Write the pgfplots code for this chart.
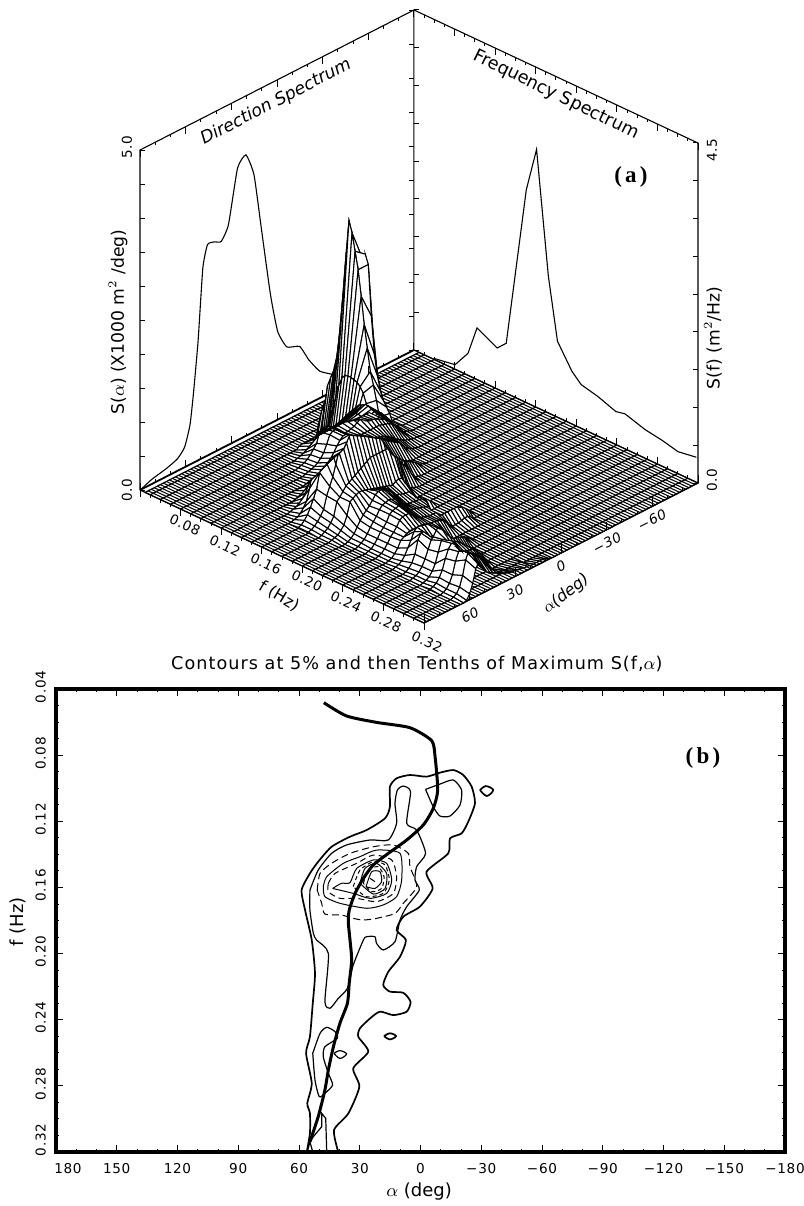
\documentclass[border=0pt]{standalone}
\usepackage{pgfplots}
\pgfplotsset{compat=1.18}
\usepackage{fontspec}
\setmainfont{DejaVu Sans}
\newfontfamily\serifb{Liberation Serif}[LetterSpace=14]
\newcount\ac
\def\Coords{}
\def\addpt#1#2{\ifnum\ac>66 \else\xdef\Coords{\Coords(#1,\the\ac,#2)}\global\advance\ac by 2 \fi}
\def\Row#1#2#3{\global\ac=-34
 \loop\ifnum\ac<#2 \addpt{#1}{0}\repeat
 \foreach \z in {#3}{\addpt{#1}{\z}}
 \loop\ifnum\ac<68 \addpt{#1}{0}\repeat}
% S(f,alpha): rows of f, columns of alpha (2 deg), heights in units of the wall scale
\Row{0.08}{-22}{1,2,3,3,3,3,3,3,3,3,3,3,3,3,3,3,3,2}
\Row{0.09}{-30}{1,2,3,6,10,14,16,16,15,14,14,14,14,14,14,14,14,14,13,11,9,7,5,3,2,1}
\Row{0.10}{-34}{2,4,7,11,14,18,22,27,30,31,32,32,31,30,29,27,25,23,23,25,27,28,28,26,16,12,8,5,3,2,1}
\Row{0.11}{-34}{2,3,6,10,15,19,23,26,28,30,31,31,30,28,26,24,23,22,22,24,27,30,30,28,20,13,9,6,4,3,2,1}
\Row{0.12}{-34}{1,2,3,6,10,14,17,19,20,21,22,22,22,22,22,22,22,23,24,26,28,30,30,27,23,18,14,11,9,7,5,4,3,2,1}
\Row{0.13}{-32}{1,1,2,3,4,6,8,10,13,15,17,19,20,21,22,24,26,28,32,36,40,41,38,32,27,25,24,23,22,21,20,19,18,16,14,11,8,5,3,2,1}
\Row{0.14}{-24}{1,2,4,6,10,14,16,18,20,22,25,28,33,40,47,54,70,82,90,96,100,104,107,109,108,102,92,82,72,60,52,44,36,30,27,18,12,8,5,3,2,1}
\Row{0.15}{-14}{1,2,4,7,10,13,17,23,28,42,60,78,95,110,135,160,190,218,238,258,272,238,200,165,142,130,124,118,100,95,84,65,40,24,13,8,4,2,1}
\Row{0.16}{-16}{1,2,5,8,11,14,18,22,24,45,58,68,76,84,95,112,135,175,228,240,238,225,195,170,148,135,128,128,132,140,130,118,84,62,45,30,22,15,9,5,2,1}
\Row{0.17}{-6}{1,2,6,13,17,21,26,38,54,62,70,78,84,88,92,92,92,90,88,86,86,86,85,82,78,74,66,55,44,36,28,16,11,7,4,2,1}
\Row{0.18}{2}{1,2,4,9,14,22,40,50,54,54,54,54,54,54,54,54,52,50,48,46,44,42,40,38,34,30,27,14,9,5,3,1}
\Row{0.19}{10}{4,14,20,24,27,28,27,25,26,27,28,29,30,31,32,33,34,35,35,34,32,30,18,10,6,3,2,1}
\Row{0.20}{8}{6,14,17,20,21,20,20,20,21,22,23,27,30,32,34,36,36,34,30,26,23,20,16,11,6,3,1}
\Row{0.21}{14}{8,14,16,17,17,18,18,19,21,24,27,30,31,32,31,30,27,22,18,14,9,5,3,1}
\Row{0.22}{14}{3,8,14,15,16,17,18,19,20,21,23,26,29,31,30,29,27,21,17,14,9,5,2,1}
\Row{0.23}{2}{4,12,15,16,16,16,16,15,15,15,15,15,15,16,17,18,20,22,25,28,28,28,26,21,17,14,9,5,2,1}
\Row{0.24}{6}{3,5,5,4,3,3,3,6,10,13,15,16,17,17,18,19,20,20,20,20,20,19,17,15,9,5,2,1}
\Row{0.25}{26}{3,7,13,16,18,22,25,27,30,32,32,30,27,20,14,8,4,2,1}
\Row{0.26}{20}{2,4,9,14,17,19,21,23,27,30,31,27,22,24,28,32,32,27,14,7,3,1}
\Row{0.27}{26}{2,5,8,11,14,16,18,20,22,24,27,31,33,30,22,14,8,4,2,1}
\Row{0.28}{26}{1,4,14,16,18,20,22,24,26,28,32,38,42,34,24,14,8,4,2,1}
\Row{0.29}{30}{3,8,14,17,19,20,21,22,24,28,34,36,32,24,14,8,4,2,1}
\Row{0.30}{34}{3,7,13,17,20,23,27,28,34,38,34,26,14,7,3,1}
\Row{0.31}{20}{2,2,2,2,2,2,3,3,4,5,7,9,13,17,22,30,36,40,32,18,8,3,1}
\Row{0.32}{8}{1,2,3,3,3,3,3,4,4,5,5,6,6,7,8,9,11,14,18,22,26,30,32,33,28,15,6,1}
\begin{document}
\begin{tikzpicture}
\path[use as bounding box] (0,0) rectangle (402pt,-603pt);
% ---------- panel (a)
\begin{axis}[at={(118.2pt,-200.5pt)},anchor=origin,
  x={(507.15pt,-237.5pt)},y={(-0.761pt,-0.389pt)},z={(0pt,0.5pt)},
  xmin=0,xmax=0.32,ymin=-90,ymax=90,zmin=0,zmax=340,
  hide axis,clip=false,line width=0.45pt]
% walls
\addplot3[black,line width=0.55pt,no markers] coordinates {(0.04,90,0)(0.04,90,340)(0.04,-90,340)(0.04,-90,0)};
\addplot3[black,line width=0.55pt,no markers] coordinates {(0.04,-90,340)(0.32,-90,340)(0.32,-90,0)};
% direction spectrum
\addplot3[black,line width=0.55pt,no markers,smooth,tension=0.3] coordinates {(0.04,89.5,0)(0.04,82.3,4.6)(0.04,72.7,8)(0.04,65.5,12)(0.04,60.7,20)(0.04,57.1,40)(0.04,54.7,72)(0.04,51.8,120)(0.04,48.7,190)(0.04,45.6,211)(0.04,41,210)(0.04,36.7,207)(0.04,31.9,220)(0.04,25.9,272)(0.04,20.4,281)(0.04,15.1,257)(0.04,10.3,200)(0.04,4.3,129)(0.04,-0.5,88)(0.04,-6.5,68)(0.04,-14.9,62)(0.04,-20.9,44)(0.04,-28.1,27)(0.04,-37.7,16)};
% frequency spectrum
\addplot3[black,line width=0.55pt,no markers] coordinates {(0.06,-90,1)(0.0806,-90,4.6)(0.0933,-90,22)(0.1022,-90,51.6)(0.1221,-90,41)(0.131,-90,50)(0.1508,-90,213)(0.1609,-90,258)(0.1725,-90,137)(0.1815,-90,76)(0.1958,-90,52.6)(0.2049,-90,43.7)(0.2212,-90,39.7)(0.2391,-90,33)(0.2481,-90,35)(0.268,-90,28.6)(0.2842,-90,26)(0.3004,-90,22)(0.3184,-90,25)};
% floor grid
\pgfplotsinvokeforeach{-90,-88,...,90}{\draw[line width=0.52pt] (axis cs:0.045,#1,0)--(axis cs:0.32,#1,0);}
\pgfplotsinvokeforeach{5,...,32}{\draw[line width=0.62pt] (axis cs:#1/100,-90,0)--(axis cs:#1/100,90,0);}
\draw[line width=0.6pt] (axis cs:0.045,-90,0)--(axis cs:0.045,90,0);
\draw[line width=0.9pt] (axis cs:0.04,-90,0)--(axis cs:0.04,90,0);
\draw[line width=0.6pt] (axis cs:0.04,90,0)--(axis cs:0.32,90,0)--(axis cs:0.32,-90,0)--(axis cs:0.04,-90,0);
% surface
\edef\cmd{\noexpand\addplot3[surf,shader=faceted,faceted color=black,line width=0.52pt,
  colormap={w}{color(0)=(white) color(1)=(white)},z buffer=default,mesh/rows=25,mesh/cols=51] coordinates {\Coords};}
\cmd
% ticks on the edges and walls
\pgfplotsinvokeforeach{-90,-80,...,90}{
 \draw (axis cs:0.04,#1,0)--(axis cs:0.04,#1,3);
 \draw (axis cs:0.04,#1,340)--(axis cs:0.04,#1,337);
 \draw (axis cs:0.32,#1,0)--(axis cs:0.32,#1,3);}
\pgfplotsinvokeforeach{-90,-60,...,90}{
 \draw (axis cs:0.04,#1,0)--(axis cs:0.04,#1,7);
 \draw (axis cs:0.04,#1,340)--(axis cs:0.04,#1,333);
 \draw (axis cs:0.32,#1,0)--(axis cs:0.32,#1,8);}
\pgfplotsinvokeforeach{4,...,32}{
 \draw (axis cs:#1/100,-90,0)--(axis cs:#1/100,-90,3);
 \draw (axis cs:#1/100,-90,340)--(axis cs:#1/100,-90,337);
 \draw (axis cs:#1/100,90,0)--(axis cs:#1/100,90,-3);}
\pgfplotsinvokeforeach{4,8,...,32}{
 \draw (axis cs:#1/100,-90,0)--(axis cs:#1/100,-90,7);
 \draw (axis cs:#1/100,-90,340)--(axis cs:#1/100,-90,333);
 \draw (axis cs:#1/100,90,0)--(axis cs:#1/100,90,-7);}
\pgfplotsinvokeforeach{0,34,...,340}{
 \draw (axis cs:0.04,90,#1)--++(2.5pt,0pt);
 \draw (axis cs:0.04,-90,#1)--++(-2.5pt,0pt);}
\pgfplotsinvokeforeach{0,37.8,...,340}{
 \draw (axis cs:0.32,-90,#1)--++(-2.5pt,0pt);
 \draw (axis cs:0.04,-90,#1)--++(2.5pt,0pt);}
\end{axis}
% ---------- panel (b)
\begin{axis}[at={(28pt,-344.5pt)},anchor=north west,scale only axis,width=364.5pt,height=231.5pt,
  x dir=reverse,y dir=reverse,xmin=-180,xmax=180,ymin=0.04,ymax=0.32,
  axis line style={line width=2pt},
  xtick={180,150,120,90,60,30,0,-30,-60,-90,-120,-150,-180},
  xticklabels={\hspace*{12pt}180,150,120,90,60,30,0,−30,−60,−90,−120,−150,−180},
  ytick={0.04,0.08,0.12,0.16,0.20,0.24,0.28,0.32},
  yticklabels={0.04,0.08,0.12,0.16,0.20,0.24,0.28,\hspace*{10pt}0.32},
  minor x tick num=2,minor y tick num=3,
  tick align=inside,major tick length=3.5pt,minor tick length=1.5pt,
  tick style={black,line width=0.45pt},
  ticklabel style={font=\fontsize{6.8}{8}\selectfont\addfontfeature{LetterSpace=5}},
  xticklabel style={yshift=-2pt},
  yticklabel style={rotate=90,anchor=south,yshift=1.5pt,xshift=1pt},
  xlabel={$\alpha$ (deg)},ylabel={f (Hz)},
  label style={font=\fontsize{9}{11}\selectfont},
  xlabel style={at={(axis description cs:0.498,-0.0864)},anchor=center},
  ylabel style={at={(axis description cs:-0.052,0.497)},anchor=center},
  title={Contours at 5\% and then Tenths of Maximum S(f,$\alpha$)},
  title style={at={(axis description cs:0.495,1.028)},anchor=center,font=\fontsize{8.8}{10}\selectfont\addfontfeature{LetterSpace=6}},
  clip=true,no markers]
% 5 per cent
\addplot[black,line width=0.85pt,smooth,tension=0.4] coordinates {(56.2,.32)(54.6,.3087)(54.6,.2966)(55.9,.2906)(53.7,.2785)(56.5,.2603)(54.6,.2503)(53.2,.2301)(52.1,.2120)(53.7,.1918)(57,.1737)(58.7,.1616)(54.6,.1515)(50.5,.1444)(43.9,.1354)(34.8,.1293)(26.6,.1253)(17.5,.1182)(15.1,.1112)(15.1,.0991)(11.8,.0940)(5.2,.0920)(-3,.0930)(-9.6,.0906)(-16.2,.0890)(-21.1,.0920)(-25.3,.0991)(-26.9,.1091)(-23.6,.1202)(-20.3,.1273)(-14.6,.1303)(-13.7,.1394)(-3,.1505)(-6,.1606)(.3,.1716)(8.5,.1777)(11.8,.1858)(7.2,.1918)(10.1,.2019)(15.9,.2110)(18.4,.2190)(15.1,.2230)(8.5,.2237)(4.9,.2291)(6.8,.2351)(13.4,.2372)(20,.2351)(24.9,.2392)(29.9,.2452)(30.7,.2503)(25.8,.2593)(33.2,.2694)(30.2,.2805)(35.6,.2966)(42.7,.3067)(40.6,.32)};
\addplot[black,line width=0.85pt,smooth,tension=0.6] coordinates {(-29.4,.1011)(-32.3,.0987)(-35.9,.1011)(-32.7,.1047)(-29.4,.1011)};
\addplot[black,line width=0.85pt,smooth,tension=0.6] coordinates {(18,.2499)(15.1,.2482)(12.1,.2499)(15.1,.2519)(18,.2499)};
% 10 per cent
\addplot[black,line width=0.6pt,smooth,tension=0.4] coordinates {(54.6,.1616)(50.5,.1495)(43.9,.1394)(36.5,.1343)(24.9,.1313)(15.9,.1313)(11.8,.1212)(12.6,.1091)(11.4,.1011)(8.5,.0987)(4.9,.1021)(6.8,.1212)(1.9,.1253)(-2.5,.1394)(1.9,.1474)(2.7,.1555)(.6,.1616)(6.8,.1716)(10.1,.1797)(12.6,.1928)(18.4,.1978)(21.7,.1938)(22.5,.1898)(26.6,.1898)(28.2,.1918)(33.2,.2069)(36.1,.2210)(40.6,.2271)(44.7,.2331)(47.2,.2291)(45.5,.1999)(51.3,.1918)(52.9,.1878)(54.6,.1737)(54.6,.1616)};
\addplot[black,line width=0.6pt,smooth,tension=0.4] coordinates {(-2.5,.1007)(-9.6,.0975)(-16.2,.0950)(-20.3,.1011)(-19.5,.1102)(-14.6,.1168)(-9.6,.1168)(-6.3,.1112)(-2.5,.1007)};
\addplot[black,line width=0.6pt,smooth,tension=0.4] coordinates {(53.2,.2603)(49.6,.2482)(46.3,.2446)(42.2,.2472)(41.1,.2513)(47.2,.2563)(48,.2624)(45.5,.2724)(43.4,.2795)(47.2,.2845)(50,.2865)(52.1,.2765)(53.2,.2603)};
\addplot[black,line width=0.6pt,smooth,tension=0.6] coordinates {(42.7,.2603)(39.8,.2587)(36.5,.2607)(39.8,.2634)(42.7,.2603)};
\addplot[black,line width=0.6pt] coordinates {(46.3,.32)(46.8,.2996)(48.8,.2966)(48.8,.3047)(52.9,.3107)(54.6,.3138)(55.9,.32)};
\addplot[black,line width=0.6pt] coordinates {(53.2,.32)(54.6,.3138)};
% 20 to 90 per cent
\addplot[black,line width=0.5pt,dash pattern=on 3.5pt off 2pt,smooth,tension=0.4] coordinates {(51,.1616)(49.6,.1515)(43.9,.1454)(34.8,.1394)(23.3,.1354)(13.4,.1343)(6,.1394)(5.2,.1474)(1.9,.1595)(8.5,.1696)(12.6,.1757)(21.7,.1787)(28.2,.1797)(33.2,.1787)(39,.1767)(47.2,.1761)(48.8,.1696)(51,.1616)};
\addplot[black,line width=0.5pt,smooth,tension=0.4] coordinates {(48,.1595)(46.3,.1535)(38.1,.1454)(29.9,.1414)(21.7,.1374)(10.1,.1394)(9.3,.1555)(11.8,.1656)(18.4,.1706)(26.6,.1726)(39.8,.1696)(47.2,.1656)(48,.1595)};
\addplot[black,line width=0.5pt,dash pattern=on 3pt off 2pt,smooth,tension=0.4] coordinates {(45.5,.1575)(42.2,.1515)(31.5,.1454)(23.3,.1404)(14.2,.1434)(11.8,.1535)(13.4,.1636)(21.7,.1686)(31.5,.1666)(39.8,.1666)(45.5,.1626)(45.5,.1575)};
\addplot[black,line width=0.5pt,smooth,tension=0.4] coordinates {(43.4,.1606)(39,.1575)(34.8,.1571)(31.5,.1485)(23.3,.1434)(16.7,.1454)(14.2,.1555)(16.7,.1636)(24.9,.1666)(33.2,.1636)(43.4,.1606)};
\addplot[black,line width=0.5pt,dash pattern=on 2pt off 1.5pt,smooth,tension=0.4] coordinates {(33.2,.1595)(29.9,.1495)(23.3,.1444)(17.5,.1464)(15.4,.1555)(18.4,.1636)(26.6,.1656)(33.2,.1595)};
\addplot[black,line width=0.5pt,smooth,tension=0.4] coordinates {(29.9,.1575)(27.4,.1485)(21.7,.1454)(16.7,.1515)(17.5,.1606)(23.3,.1640)(29.9,.1575)};
\addplot[black,line width=0.5pt,dash pattern=on 2pt off 1.5pt,smooth,tension=0.4] coordinates {(28.2,.1575)(25.8,.1495)(20.8,.1474)(18,.1535)(19.2,.1606)(24.1,.1626)(28.2,.1575)};
\addplot[black,line width=0.5pt,smooth,tension=0.4] coordinates {(26.9,.1595)(24.1,.1505)(20,.1505)(19.2,.1565)(22.5,.1606)(26.9,.1595)};
\addplot[black,line width=0.5pt] coordinates {(24.9,.1545)(22.5,.1565)};
% mean direction
\addplot[black,line width=1.5pt,smooth,tension=0.4] coordinates {(47.7,.0483)(36.5,.0563)(21.6,.0602)(5.2,.0634)(-5.5,.0712)(-7.2,.0809)(-8.5,.1011)(-6.3,.1122)(-1.4,.1222)(6.8,.1313)(15.9,.1394)(23.3,.1464)(28.2,.1545)(32.3,.1636)(35.2,.1737)(35.6,.1817)(34.8,.1918)(34,.2039)(35.2,.2180)(36.1,.2301)(39.8,.2422)(43,.2563)(45.5,.2704)(47.2,.2825)(50.5,.2986)(54.6,.3138)};
\end{axis}
% ---------- panel (a) text
\begin{scope}[x=0.5pt,y=-0.5pt]
\newcommand\sm{\fontsize{6.8}{8}\selectfont\addfontfeature{LetterSpace=4}}
\newcommand\lb{\fontsize{8.6}{10}\selectfont}
\node[rotate=90,font=\lb] at (118,322) {S($\alpha$) (X1000 m$^2$ /deg)};
\node[rotate=90,font=\lb] at (713,338) {S(f) (m$^2$/Hz)};
\node[rotate=90,font=\sm] at (127,147) {5.0};
\node[rotate=90,font=\sm] at (127,490) {0.0};
\node[rotate=90,font=\sm] at (712,150) {4.5};
\node[rotate=90,font=\sm] at (712,480) {0.0};
\node[rotate=27.4,font=\fontsize{8.6}{9}\selectfont\itshape] at (276,102) {Direction Spectrum};
\node[rotate=-26,font=\fontsize{8.8}{9}\selectfont] at (556,95) {Frequency Spectrum};
\node[font=\serifb\bfseries\fontsize{11.5}{13}\selectfont] at (631,177) {(a)};
\node[font=\serifb\bfseries\fontsize{11.5}{13}\selectfont] at (703,758) {(b)};
\node[rotate=-25,font=\sm] at (185,525) {0.08};
\node[rotate=-25,font=\sm] at (225,546) {0.12};
\node[rotate=-25,font=\sm] at (266,564) {0.16};
\node[rotate=-25,font=\sm] at (307,581) {0.20};
\node[rotate=-25,font=\sm] at (346,602) {0.24};
\node[rotate=-25,font=\sm] at (386,622) {0.28};
\node[rotate=-25,font=\sm] at (427,642) {0.32};
\node[rotate=-31,font=\fontsize{8}{9}\selectfont] at (279,596) {f (Hz)};
\node[rotate=27,font=\sm\itshape] at (470,615) {60};
\node[rotate=27,font=\sm\itshape] at (515,592) {30};
\node[rotate=27,font=\sm\itshape] at (561,566) {0};
\node[rotate=27,font=\sm\itshape] at (607,543) {−30};
\node[rotate=27,font=\sm\itshape] at (652,520) {−60};
\node[rotate=38,font=\fontsize{8}{9}\selectfont\itshape] at (566,594) {$\alpha$(deg)};
\end{scope}
\end{tikzpicture}
\end{document}
